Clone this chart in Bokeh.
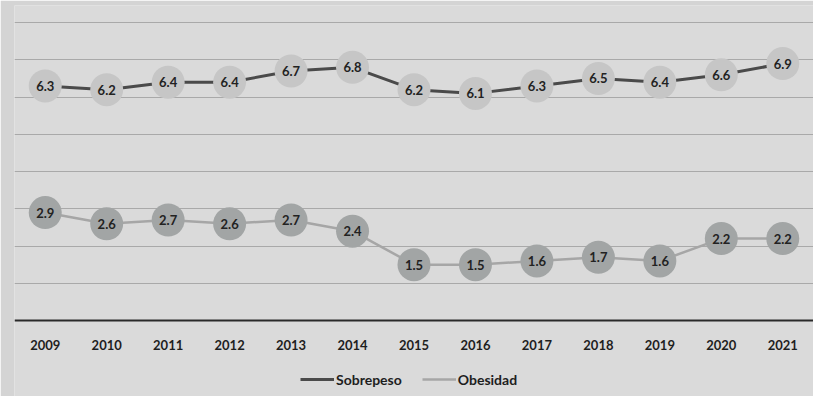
from bokeh.plotting import figure
from bokeh.models import ColumnDataSource, FactorRange, Range1d, Legend, LegendItem, FixedTicker
from bokeh.core.properties import value
from bokeh.embed import file_html
from bokeh.resources import INLINE

years = ["2009", "2010", "2011", "2012", "2013", "2014", "2015",
         "2016", "2017", "2018", "2019", "2020", "2021"]
sobrepeso = [6.3, 6.2, 6.4, 6.4, 6.7, 6.8, 6.2, 6.1, 6.3, 6.5, 6.4, 6.6, 6.9]
obesidad = [2.9, 2.6, 2.7, 2.6, 2.7, 2.4, 1.5, 1.5, 1.6, 1.7, 1.6, 2.2, 2.2]
grid_values = [1, 2, 3, 4, 5, 6, 7, 8]

src = ColumnDataSource(dict(
    x=years, s=sobrepeso, o=obesidad,
    sl=[f"{v:.1f}" for v in sobrepeso],
    ol=[f"{v:.1f}" for v in obesidad],
))

FONT = "Lato"

p = figure(frame_width=799, frame_height=391, x_range=FactorRange(*years),
           y_range=Range1d(-2.04, 8.46),
           output_backend="svg", toolbar_location=None,
           min_border_left=14, min_border_right=0, min_border_top=5, min_border_bottom=0)
p.background_fill_color = "#dadada"
p.border_fill_color = "#d4d4d4"
p.outline_line_color = None

p.xgrid.grid_line_color = None
p.yaxis.visible = False
p.yaxis.ticker = FixedTicker(ticks=grid_values)
p.ygrid.grid_line_color = "#a9a9a9"
p.ygrid.grid_line_width = 1

p.xaxis.fixed_location = 0
p.xaxis.axis_line_color = "#2a2a2a"
p.xaxis.axis_line_width = 2
p.xaxis.major_tick_line_color = None
p.xaxis.minor_tick_line_color = None
p.xaxis.major_label_standoff = 13
p.xaxis.major_label_text_font = FONT
p.xaxis.major_label_text_font_style = "bold"
p.xaxis.major_label_text_font_size = "13px"
p.xaxis.major_label_text_color = "#1e1e1e"

ls = p.line("x", "s", source=src, line_color="#4a4a4a", line_width=3)
lo = p.line("x", "o", source=src, line_color="#a6a6a6", line_width=2.5)
cs = p.scatter("x", "s", source=src, size=33, fill_color="#c6c6c6", line_color=None)
co = p.scatter("x", "o", source=src, size=33, fill_color="#a2a5a5", line_color=None)

# small markers used only for the legend glyphs
ms = p.scatter(x=[], y=[], size=8, fill_color="#c6c6c6", line_color=None)
mo = p.scatter(x=[], y=[], size=8, fill_color="#a2a5a5", line_color=None)

for col, lab in (("s", "sl"), ("o", "ol")):
    p.text("x", col, text=lab, source=src, text_align="center", text_baseline="middle",
           text_font=value(FONT), text_font_style="bold", text_font_size="13px",
           text_color="#222222")

legend = Legend(items=[LegendItem(label="Sobrepeso", renderers=[ls, ms]),
                       LegendItem(label="Obesidad", renderers=[lo, mo])],
                orientation="horizontal", location=(286, 8),
                label_text_font=FONT, label_text_font_style="bold",
                label_text_font_size="14px", label_text_color="#1e1e1e",
                background_fill_alpha=0, border_line_color=None,
                glyph_width=34, glyph_height=18, label_height=18,
                label_standoff=2, spacing=20, padding=2, margin=0)
p.add_layout(legend, "center")

open("out.html", "w").write(file_html(p, INLINE))
